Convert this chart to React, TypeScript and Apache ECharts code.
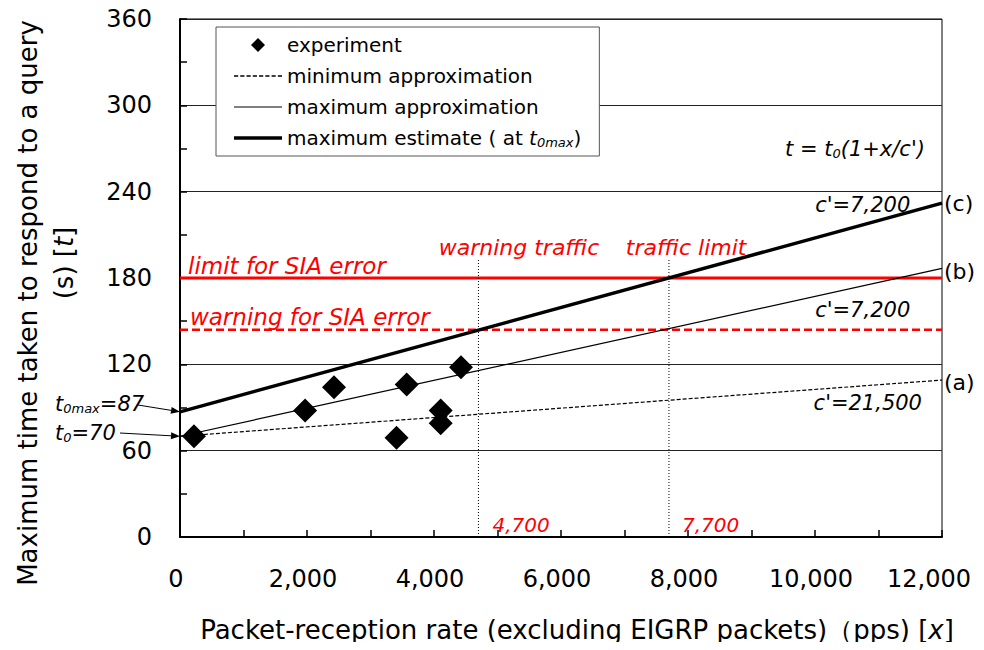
import React, { useEffect, useRef } from "react";
import * as echarts from "echarts";

const FONT = "'DejaVu Sans', Tahoma, Verdana, sans-serif";

// measured response times
const experimentX = [220, 1970, 2425, 3410, 3570, 4105, 4105, 4425];
const experimentT = [70, 88, 104, 69, 106, 88, 79, 118];

// model t = t0 (1 + x / c')
const t0 = 70;
const t0max = 87;
const cMinApprox = 21500;
const cMaxApprox = 7200;
const cMaxEstimate = 7200;
const xDomain = [0, 12000];

// thresholds
const siaLimit = 180;
const siaWarning = 144;
const trafficWarning = 4700;
const trafficLimit = 7700;
const guideTop = 193;

const model = (base: number, c: number) => (x: number) => base * (1 + x / c);
const fMin = model(t0, cMinApprox);
const fMax = model(t0, cMaxApprox);
const fEst = model(t0max, cMaxEstimate);

const minApproxData = xDomain.map((x) => [x, fMin(x)]);
const maxApproxData = xDomain.map((x) => [x, fMax(x)]);
const maxEstimateData = xDomain.map((x) => [x, fEst(x)]);
const experimentData = experimentX.map((x, i) => [x, experimentT[i]]);

const NAME_EXP = "experiment";
const NAME_MIN = "minimum approximation";
const NAME_MAX = "maximum approximation";
const NAME_EST = "maximum estimate";

const RED = "#ff0000";

// legend glyphs: a diamond, a short-dash stroke, a thin stroke and a thick stroke
const ICON_DIAMOND = "path://M7,0L14,7L7,14L0,7Z";
const ICON_DASH =
  "path://" +
  Array.from({ length: 8 }, (_, i) => `M${i * 6},0h4v1.2h-4z`).join("");
const ICON_THIN = "path://M0,0h48v1.2h-48z";
const ICON_THICK = "path://M0,0h48v3.4h-48z";

export default function App() {
  const ref = useRef<HTMLDivElement>(null);

  useEffect(() => {
    if (!ref.current) return;
    const chart = echarts.init(ref.current, null, { renderer: "svg" });

    const thinBlack = { color: "#000", width: 1.2 };

    chart.setOption({
      animation: false,
      backgroundColor: "#fff",
      textStyle: { fontFamily: FONT },
      grid: {
        left: 180,
        right: 42,
        top: 19,
        bottom: 113,
        show: true,
        borderColor: "#000",
        borderWidth: 1,
        backgroundColor: "transparent",
      },
      xAxis: {
        type: "value",
        min: xDomain[0],
        max: xDomain[1],
        interval: 2000,
        axisLine: { show: true, lineStyle: { color: "#000", width: 2 } },
        axisTick: { show: true, inside: true, length: 7, lineStyle: { color: "#000", width: 1.5 } },
        minorTick: { show: true, splitNumber: 2, length: 7, lineStyle: { color: "#000", width: 1.5 } },
        splitLine: { show: false },
        axisLabel: {
          fontSize: 24,
          color: "#000",
          fontFamily: FONT,
          margin: 30,
          formatter: (v: number) =>
            v === xDomain[1]
              ? `{last|${v.toLocaleString("en-US")}}`
              : `{n|${v.toLocaleString("en-US")}}`,
          rich: {
            n: { fontSize: 24, color: "#000", fontFamily: FONT, padding: [0, 8, 0, 0] },
            last: { fontSize: 24, color: "#000", fontFamily: FONT, padding: [0, 26, 0, 0] },
          },
        },
      },
      yAxis: {
        type: "value",
        min: 0,
        max: 360,
        interval: 60,
        axisLine: { show: true, lineStyle: { color: "#000", width: 2 } },
        axisTick: { show: true, inside: true, length: 7, lineStyle: { color: "#000", width: 1.5 } },
        minorTick: { show: true, splitNumber: 2, length: 7, lineStyle: { color: "#000", width: 1.5 } },
        splitLine: { show: true, lineStyle: { color: "#222", width: 1 } },
        axisLabel: { fontSize: 24, color: "#000", fontFamily: FONT, margin: 28 },
      },
      legend: {
        data: [
          { name: NAME_EXP, icon: ICON_DIAMOND },
          { name: NAME_MIN, icon: ICON_DASH },
          { name: NAME_MAX, icon: ICON_THIN },
          { name: NAME_EST, icon: ICON_THICK },
        ],
        orient: "vertical",
        left: 216,
        top: 27,
        itemWidth: 48,
        itemHeight: 14,
        itemGap: 11,
        symbolKeepAspect: true,
        padding: [8, 18, 7, 18],
        borderColor: "#555",
        borderWidth: 1,
        backgroundColor: "#fff",
        selectedMode: false,
        textStyle: {
          fontSize: 20,
          lineHeight: 20,
          color: "#000",
          fontFamily: FONT,
          rich: {
            i: { fontSize: 20, fontStyle: "italic", fontFamily: FONT, color: "#000" },
            s: { fontSize: 13, fontStyle: "italic", fontFamily: FONT, color: "#000", padding: [9, 0, 0, 0] },
          },
        },
        formatter: (name: string) =>
          name === NAME_EST ? "maximum estimate ( at {i|t}{s|0max})" : name,
      },
      series: [
        {
          name: "SIA limit",
          type: "line",
          data: xDomain.map((x) => [x, siaLimit]),
          symbol: "none",
          lineStyle: { color: RED, width: 3 },
          z: 1,
        },
        {
          name: "SIA warning",
          type: "line",
          data: xDomain.map((x) => [x, siaWarning]),
          symbol: "none",
          lineStyle: { color: RED, width: 2.5, type: [8, 4] },
          z: 1,
        },
        {
          name: "warning traffic",
          type: "line",
          data: [[trafficWarning, 0], [trafficWarning, guideTop]],
          symbol: "none",
          lineStyle: { color: "#000", width: 1, type: [1, 2] },
          z: 1,
        },
        {
          name: "traffic limit",
          type: "line",
          data: [[trafficLimit, 0], [trafficLimit, guideTop]],
          symbol: "none",
          lineStyle: { color: "#000", width: 1, type: [1, 2] },
          z: 1,
        },
        {
          name: NAME_MIN,
          type: "line",
          data: minApproxData,
          symbol: "none",
          color: "#000",
          lineStyle: { ...thinBlack, type: [4, 2] },
          z: 2,
        },
        {
          name: NAME_MAX,
          type: "line",
          data: maxApproxData,
          symbol: "none",
          color: "#000",
          lineStyle: { ...thinBlack },
          z: 2,
        },
        {
          name: NAME_EST,
          type: "line",
          data: maxEstimateData,
          symbol: "none",
          color: "#000",
          lineStyle: { color: "#000", width: 3.5 },
          z: 2,
        },
        {
          name: NAME_EXP,
          type: "scatter",
          data: experimentData,
          symbol: "diamond",
          symbolSize: 24,
          itemStyle: { color: "#000", opacity: 1 },
          z: 3,
        },
      ],
    });

    const p = (x: number, y: number) =>
      chart.convertToPixel({ gridIndex: 0 }, [x, y]) as number[];

    const txt = (
      text: string,
      pos: number[],
      opts: { size?: number; color?: string; italic?: boolean; align?: string; rich?: any } = {}
    ) => ({
      type: "text",
      x: pos[0],
      y: pos[1],
      z: 10,
      style: {
        text,
        fill: opts.color || "#000",
        fontSize: opts.size || 22,
        fontFamily: FONT,
        fontStyle: opts.italic === false ? "normal" : "italic",
        align: opts.align || "left",
        verticalAlign: "middle",
        rich: opts.rich,
      },
    });

    const subRich = (size: number) => ({
      s: {
        fontSize: Math.round(size * 0.62),
        fontStyle: "italic",
        fontFamily: FONT,
        fill: "#000",
        padding: [Math.round(size * 0.45), 0, 0, 0],
      },
    });

    const arrow = (from: number[], to: number[]) => {
      const dx = to[0] - from[0];
      const dy = to[1] - from[1];
      const len = Math.hypot(dx, dy);
      const ux = dx / len;
      const uy = dy / len;
      const hl = 9;
      const hw = 3.5;
      const bx = to[0] - ux * hl;
      const by = to[1] - uy * hl;
      return [
        {
          type: "line",
          z: 10,
          shape: { x1: from[0], y1: from[1], x2: bx, y2: by },
          style: { stroke: "#000", lineWidth: 1 },
        },
        {
          type: "polygon",
          z: 10,
          shape: {
            points: [
              [to[0], to[1]],
              [bx - uy * hw, by + ux * hw],
              [bx + uy * hw, by - ux * hw],
            ],
          },
          style: { fill: "#000" },
        },
      ];
    };

    const endC = p(xDomain[1], fEst(xDomain[1]));
    const endB = p(xDomain[1], fMax(xDomain[1]));
    const endA = p(xDomain[1], fMin(xDomain[1]));
    const tipEst = p(0, t0max);
    const tip0 = p(0, t0);
    const baseW = p(trafficWarning, 0);
    const baseL = p(trafficLimit, 0);

    const italicRich = (size: number) => ({
      i: { fontSize: size, fontStyle: "italic", fontFamily: FONT, fill: "#000" },
    });

    chart.setOption({
      graphic: [
        // axis titles
        {
          type: "text",
          x: 28,
          y: 303,
          rotation: Math.PI / 2,
          style: {
            text: "Maximum time taken to respond to a query",
            fontSize: 26,
            fontFamily: FONT,
            fill: "#000",
            align: "center",
            verticalAlign: "middle",
          },
        },
        {
          type: "text",
          x: 64,
          y: 263,
          rotation: Math.PI / 2,
          style: {
            text: "(s) [{i|t}]",
            fontSize: 26,
            fontFamily: FONT,
            fill: "#000",
            align: "center",
            verticalAlign: "middle",
            rich: italicRich(26),
          },
        },
        {
          type: "text",
          x: 577,
          y: 630,
          style: {
            text: "Packet-reception rate (excluding EIGRP packets)（pps) [{i|x}]",
            fontSize: 26,
            fontFamily: FONT,
            fill: "#000",
            align: "center",
            verticalAlign: "middle",
            rich: italicRich(26),
          },
        },
        // model annotation
        txt("t = t{s|0}(1+x/c')", p(11730, 270), { size: 21, align: "right", rich: subRich(21) }),
        txt("c'=7,200", p(11500, 231), { size: 21, align: "right" }),
        txt("c'=7,200", p(11500, 158), { size: 21, align: "right" }),
        txt("c'=21,500", p(11685, 93), { size: 21, align: "right" }),
        // curve identifiers
        txt("(c)", [endC[0] + 2, endC[1]], { italic: false }),
        txt("(b)", [endB[0] + 2, endB[1] + 3], { italic: false }),
        txt("(a)", [endA[0] + 2, endA[1] + 2], { italic: false }),
        // thresholds
        txt("limit for SIA error", p(126, 188), { color: RED, size: 23 }),
        txt("warning for SIA error", p(157, 153), { color: RED, size: 23 }),
        txt("warning traffic", p(5340, 201.5), { color: RED, align: "center" }),
        txt("traffic limit", p(7970, 201), { color: RED, align: "center" }),
        txt("4,700", [baseW[0] + 14, baseW[1] - 12], { color: RED, size: 20 }),
        txt("7,700", [baseL[0] + 13, baseL[1] - 12], { color: RED, size: 20 }),
        // intercepts
        txt("t{s|0max}=87", [55, 404], { size: 21, rich: subRich(21) }),
        txt("t{s|0}=70", [55, 433], { size: 21, rich: subRich(21) }),
        ...arrow([138, 405], tipEst),
        ...arrow([120, 433], tip0),
      ],
    });

    return () => chart.dispose();
  }, []);

  return <div ref={ref} style={{ width: 984, height: 650, margin: -8 }} />;
}
